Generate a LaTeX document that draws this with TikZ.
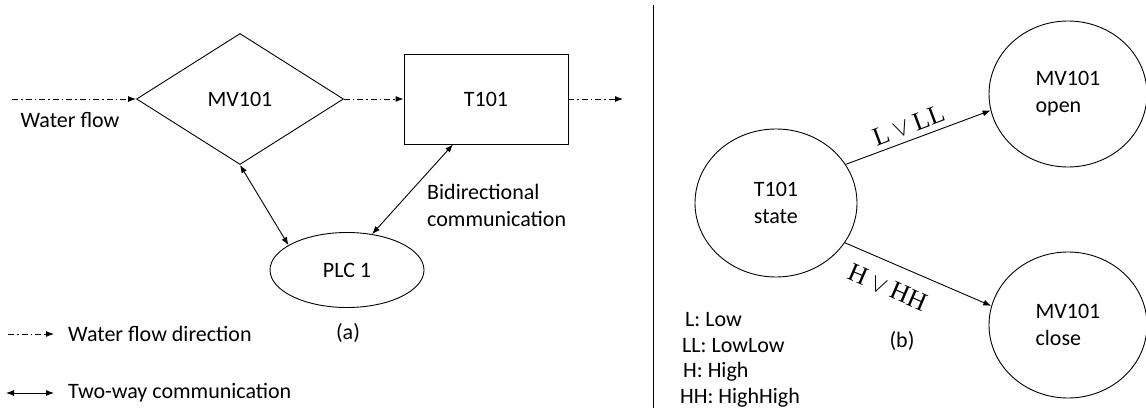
\documentclass[tikz,border=0pt]{standalone}
\usepackage{fontspec}
\setmainfont{Carlito}
\newfontfamily\lblfont{Liberation Serif}
\usetikzlibrary{arrows.meta,shapes.geometric}
\begin{document}
\begin{tikzpicture}[x=1pt,y=-1pt,
  every node/.style={font=\fontsize{22}{27}\selectfont},
  shp/.style={draw,line width=0.9pt,inner sep=0pt},
  flow/.style={line width=0.9pt,dash pattern=on 6pt off 3pt on 1.5pt off 3pt,-{Latex[length=8pt,width=6pt]}},
  comm/.style={line width=0.9pt,{Latex[length=8pt,width=6pt]}-{Latex[length=8pt,width=6pt]}},
  one/.style={line width=0.9pt,-{Latex[length=8pt,width=6pt]}},
  lbl/.style={font=\lblfont\fontsize{26}{28}\selectfont,sloped,inner sep=2pt},
  txt/.style={inner sep=0pt}]
\path[use as bounding box] (0,0) rectangle (1146,412);
% (a)
\node[shp,diamond,minimum width=207pt,minimum height=131pt] (mv) at (240,99) {MV101};
\node[shp,rectangle,minimum width=164pt,minimum height=90pt] (t) at (486,99) {T101};
\node[shp,ellipse,minimum width=154pt,minimum height=75pt] (plc) at (347,270) {PLC 1};
\coordinate (win) at (12,99);
\coordinate (wout) at (623,99);
\draw[flow] (win) -- (mv.west);
\draw[flow] (mv.east) -- (t.west);
\draw[flow] (t.east) -- (wout);
\node[txt] (wf) at (70,120) {Water flow};
\draw[comm] (mv.south) -- (plc.157);
\draw[comm] ([xshift=-33pt]t.south) -- (plc.55);
\node[txt,anchor=west,align=left] (bd) at (427,205) {Bidirectional\\communication};
\node[txt] (a) at (348,333) {(a)};
% legend (a)
\coordinate (l1s) at (8,334);
\coordinate (l1e) at (54,334);
\draw[flow] (l1s) -- (l1e);
\node[txt,anchor=west] (l1) at (68,334) {Water flow direction};
\coordinate (l2s) at (6,393);
\coordinate (l2e) at (54,393);
\draw[comm] (l2s) -- (l2e);
\node[txt,anchor=west] (l2) at (68,393) {Two-way communication};
% separator
\draw[line width=0.9pt] (653,5) -- (653,408);
% (b)
\node[shp,ellipse,minimum width=162pt,minimum height=148pt,align=left] (ts) at (776,203) {T101\\state};
\node[shp,ellipse,minimum width=158pt,minimum height=146pt,align=left] (op) at (1068,94) {MV101\\open};
\node[shp,ellipse,minimum width=158pt,minimum height=146pt,align=left] (cl) at (1068,325) {MV101\\close};
\draw[one] (ts.29) -- node[lbl,above=4pt,pos=0.47] {L\hspace{0.2em}$\vee$\hspace{0.2em}LL} (op.192);
\draw[one] (ts.330) -- node[lbl,below=13pt,pos=0.36] {H\hspace{0.2em}$\vee$\hspace{0.2em}HH} (cl.166);
\node[txt] (b) at (902,341) {(b)};
\node[txt,anchor=west] (k1) at (685,320) {L: Low};
\node[txt,anchor=west] (k2) at (682,346) {LL: LowLow};
\node[txt,anchor=west] (k3) at (683,372) {H: High};
\node[txt,anchor=west] (k4) at (680,398) {HH: HighHigh};
\end{tikzpicture}
\end{document}
